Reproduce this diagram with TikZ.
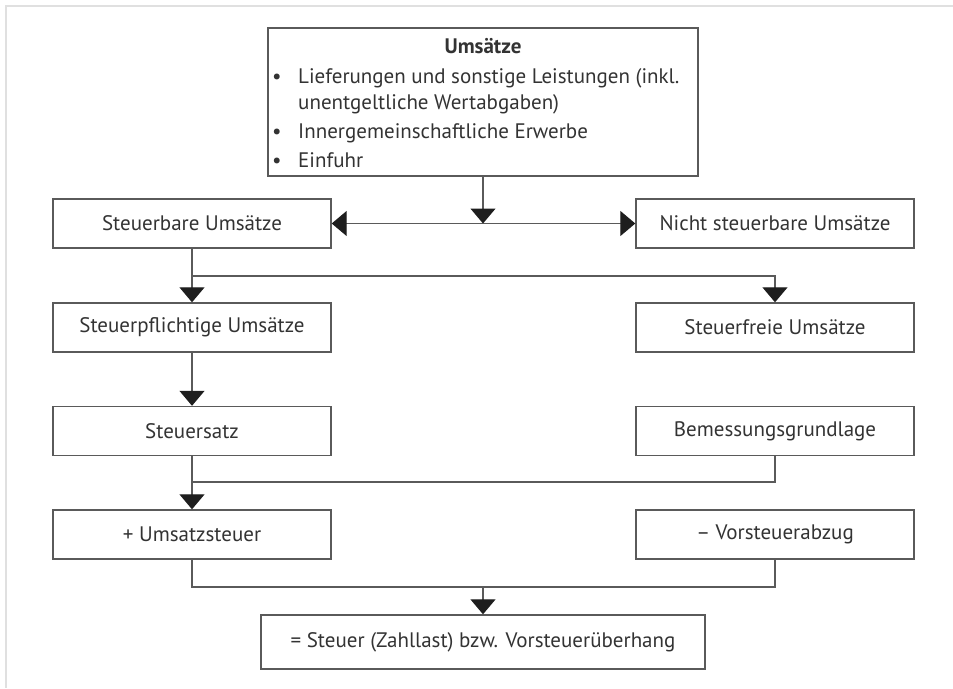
\documentclass[tikz,border=0pt]{standalone}
\usepackage{fontspec}
\setmainfont{PT Sans}
\usetikzlibrary{arrows.meta}
\definecolor{boxline}{HTML}{5A5A5A}
\definecolor{txt}{HTML}{333333}
\definecolor{tip}{HTML}{1E1E1E}
\definecolor{frame}{HTML}{E0E0E0}
\tikzset{
  box/.style={draw=boxline, line width=1.4pt, minimum width=278pt, minimum height=49pt,
    inner sep=0pt, text=txt, font=\fontsize{21}{25}\selectfont},
  conn/.style={draw=boxline, line width=1.3pt},
  arr/.style={conn, -{Triangle[length=15pt,width=25pt,fill=tip,color=tip]}},
  darr/.style={conn, {Triangle[length=15pt,width=25pt,fill=tip,color=tip]}-{Triangle[length=15pt,width=25pt,fill=tip,color=tip]}},
  line/.style={anchor=base west, inner sep=0pt, text=txt, font=\fontsize{21}{25}\selectfont},
}
\begin{document}
\begin{tikzpicture}[x=1pt,y=-1pt]
\useasboundingbox (0,0) rectangle (953,688);
\draw[frame, line width=2.5pt] (6,688) -- (6,6) -- (953,6);

\node[box, minimum width=430pt, minimum height=148pt] (top) at (483,102) {};
\node[line, anchor=base, font=\fontsize{21}{25}\selectfont\bfseries] (t0) at (483,53) {Umsätze};
\node[line] (b1) at (272,83) {•};
\node[line] (t1) at (298,83) {Lieferungen und sonstige Leistungen (inkl.};
\node[line] (t2) at (298,109) {unentgeltliche Wertabgaben)};
\node[line] (b3) at (272,138) {•};
\node[line] (t3) at (298,138) {Innergemeinschaftliche Erwerbe};
\node[line] (b4) at (272,167) {•};
\node[line] (t4) at (298,167) {Einfuhr};

\node[box] (sb) at (192,223.5) {Steuerbare Umsätze};
\node[box] (nsb) at (775,223.5) {Nicht steuerbare Umsätze};
\node[box] (sp) at (192,327.5) {Steuerpflichtige Umsätze};
\node[box] (sf) at (775,327.5) {Steuerfreie Umsätze};
\node[box] (ss) at (192,431) {Steuersatz};
\node[box] (bg) at (775,431) {Bemessungsgrundlage};
\node[box] (ust) at (192,534.5) {+ Umsatzsteuer};
\node[box] (vs) at (775,534.5) {– Vorsteuerabzug};
\node[box, minimum width=444pt, minimum height=54pt] (end) at (483,642) {= Steuer (Zahllast) bzw. Vorsteuerüberhang};

\coordinate (j1) at (483,223.5);
\coordinate (j2) at (192,276);
\coordinate (j3) at (192,482);
\coordinate (j4) at (192,587);
\coordinate (j5) at (483,587);

\draw[darr] (sb.east) -- (nsb.west);
\draw[arr] (top.south) -- (j1);
\draw[arr] (sb.south) -- (sp.north);
\draw[arr] (j2) -| (sf.north);
\draw[arr] (sp.south) -- (ss.north);
\draw[arr] (ss.south) -- (ust.north);
\draw[conn] (bg.south) |- (j3);
\draw[conn] (ust.south) |- (j4) -| (vs.south);
\draw[arr] (j5) -- (end.north);
\end{tikzpicture}
\end{document}
